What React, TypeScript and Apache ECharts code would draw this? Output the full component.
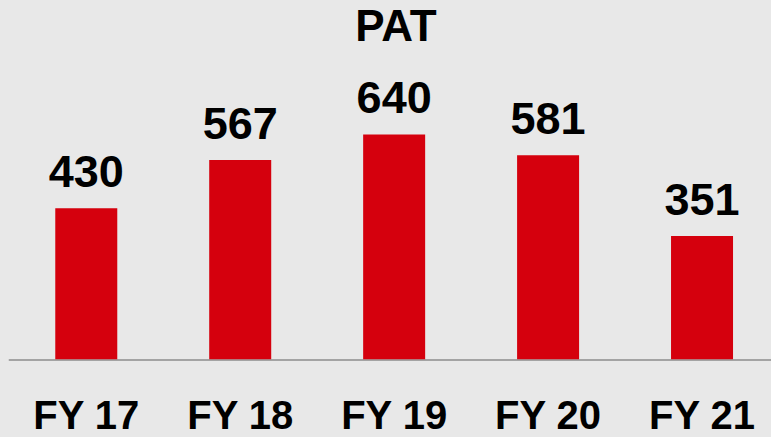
import React, { useEffect, useRef } from "react";
import * as echarts from "echarts";

const title = "PAT";
const categories = ["FY 17", "FY 18", "FY 19", "FY 20", "FY 21"];
const patValues = [430, 567, 640, 581, 351];

const FONT = "'Liberation Sans', Arial, sans-serif";

export default function App() {
  const ref = useRef<HTMLDivElement>(null);
  useEffect(() => {
    if (!ref.current) return;
    const chart = echarts.init(ref.current, null, { renderer: "svg" });
    chart.setOption({
      animation: false,
      backgroundColor: "#e8e8e8",
      title: {
        text: title,
        left: 396,
        textAlign: "center",
        top: 3,
        padding: 0,
        textStyle: { fontFamily: FONT, fontWeight: "bold", fontSize: 44, color: "#000" },
      },
      grid: { left: 9.3, right: 0, top: 113.4, bottom: 77.7, containLabel: false },
      xAxis: {
        type: "category",
        data: categories,
        axisLine: { show: true, lineStyle: { color: "#8c8c8c", width: 1.5 } },
        axisTick: { show: false },
        axisLabel: {
          margin: 36,
          fontFamily: FONT,
          fontWeight: "bold",
          fontSize: 40,
          color: "#000",
        },
      },
      yAxis: {
        type: "value",
        min: 0,
        max: 700,
        show: false,
        splitLine: { show: false },
      },
      series: [
        {
          type: "bar",
          data: patValues,
          barWidth: 62,
          itemStyle: { color: "#d5000d" },
          label: {
            show: true,
            position: "top",
            distance: 14,
            fontFamily: FONT,
            fontWeight: "bold",
            fontSize: 45,
            color: "#000",
          },
        },
      ],
    });
    return () => chart.dispose();
  }, []);
  return (
    <div style={{ position: "fixed", left: 0, top: 0, width: 771, height: 437, overflow: "hidden", background: "#e8e8e8" }}>
      <div ref={ref} style={{ width: 779, height: 437 }} />
    </div>
  );
}
